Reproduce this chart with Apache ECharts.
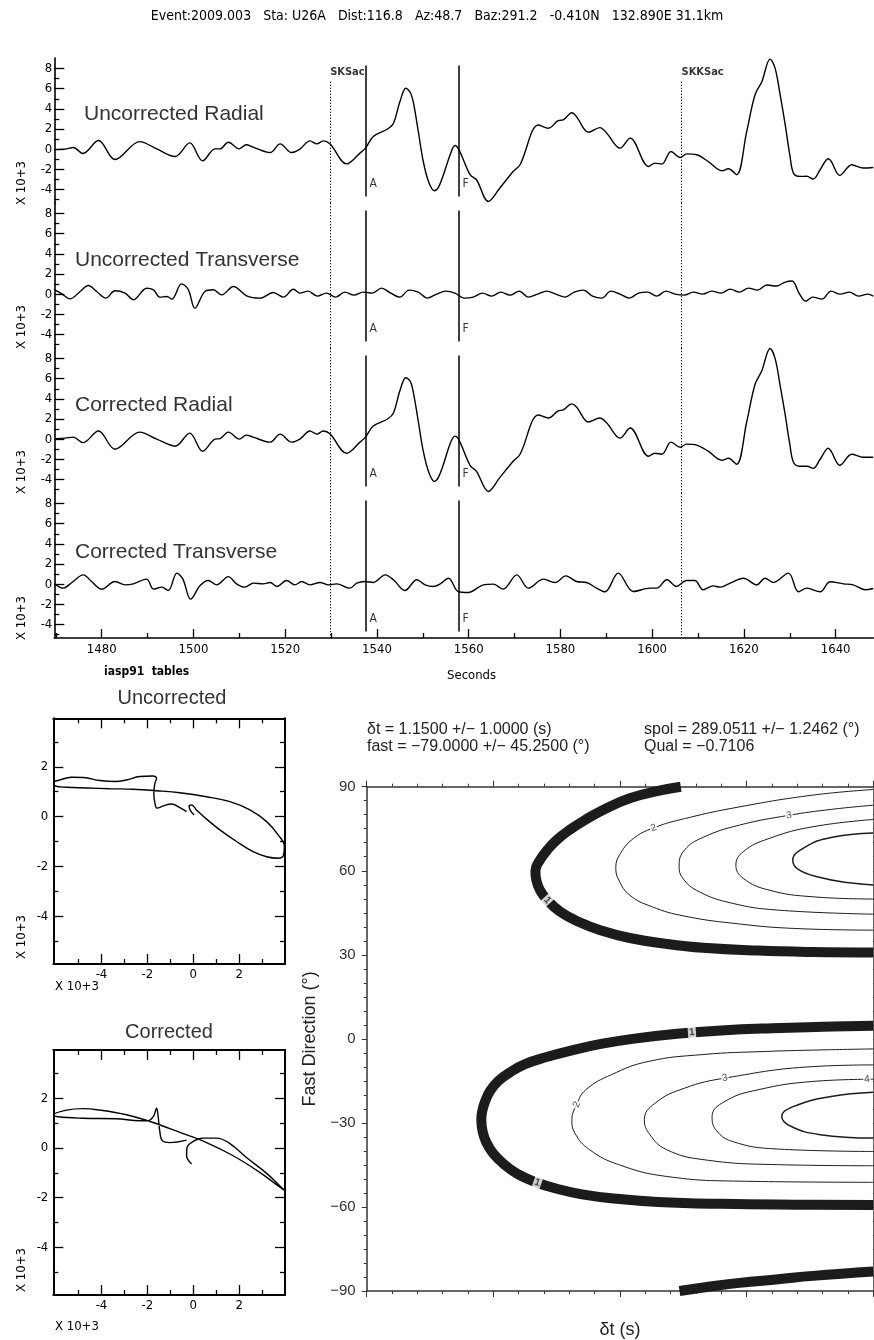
<!DOCTYPE html>
<html>
<head>
<meta charset="utf-8">
<script src="https://cdn.jsdelivr.net/npm/echarts@6.0.0/dist/echarts.min.js"></script>
<style>
  html, body { margin: 0; padding: 0; background: #fff; }
  #chart { width: 874px; height: 1340px; }
</style>
</head>
<body>
<div id="chart"></div>
<script>
// ---------------- data ----------------
const headerText = 'Event:2009.003   Sta: U26A   Dist:116.8   Az:48.7   Baz:291.2   -0.410N   132.890E 31.1km';
const panelNames = ['Uncorrected Radial', 'Uncorrected Transverse', 'Corrected Radial', 'Corrected Transverse'];

// seismogram traces: [time (s), amplitude (x 10^3)]
const radialUncorrected = [
  [1469.8,-0.05],[1472.0,0.0],[1473.8,0.16],[1475.9,-0.43],[1479.3,0.85],[1482.9,-1.03],[1488.3,0.75],
  [1492.0,0.03],[1496.0,-0.73],[1499.2,0.62],[1502.0,-1.16],[1504.7,0.03],[1505.8,0.03],[1507.6,0.69],
  [1510.0,0.03],[1511.5,0.43],[1513.0,0.2],[1516.7,-0.34],[1518.9,0.52],[1521.4,-0.34],[1523.2,0.0],
  [1525.4,0.82],[1526.9,0.52],[1528.3,0.82],[1529.8,0.5],[1533.4,-1.46],[1536.3,-0.4],[1537.5,0.1],
  [1539.2,1.25],[1542.3,2.0],[1543.6,2.57],[1545.0,4.7],[1546.3,6.04],[1547.3,5.6],[1548.0,4.5],
  [1549.0,1.8],[1550.1,-1.23],[1551.3,-3.3],[1552.5,-4.13],[1553.4,-3.8],[1554.5,-2.54],[1556.0,-0.5],
  [1557.0,0.36],[1557.9,-0.07],[1560.3,-2.54],[1561.7,-3.04],[1564.3,-5.2],[1566.8,-3.86],[1569.7,-2.22],
  [1571.2,-1.55],[1575.2,2.4],[1577.4,2.08],[1579.5,2.83],[1580.6,2.9],[1582.5,3.62],[1583.5,3.23],
  [1586.1,1.68],[1588.6,2.14],[1590.1,1.58],[1593.0,0.1],[1595.2,1.09],[1599.2,-1.72],[1600.6,-1.39],
  [1602.1,-1.49],[1604.1,-0.24],[1606.1,-0.83],[1607.5,-0.47],[1609.7,-0.56],[1612.2,-1.23],[1615.2,-2.15],
  [1616.6,-1.95],[1618.4,-2.54],[1620.6,1.74],[1622.4,5.38],[1623.9,6.7],[1625.7,8.94],[1626.8,8.02],
  [1627.9,5.38],[1629.0,2.4],[1630.0,-0.56],[1630.8,-2.38],[1632.2,-2.71],[1633.7,-2.7],[1635.1,-2.97],
  [1636.6,-2.05],[1638.4,-0.96],[1639.0,-1.2],[1640.9,-2.61],[1643.5,-1.55],[1646.0,-1.88],[1648.2,-1.82]
];
const transverseUncorrected = [
  [1469.8,0.43],[1471.3,0.03],[1473.1,-0.47],[1475.3,0.26],[1477.1,0.85],[1478.9,0.26],[1480.9,-0.4],
  [1482.9,0.33],[1485.1,0.1],[1486.9,-0.56],[1489.8,0.59],[1491.3,0.43],[1492.7,-0.3],[1494.2,-0.23],
  [1495.3,-0.5],[1497.4,1.02],[1498.9,0.43],[1500.3,-1.39],[1502.5,0.26],[1504.3,0.43],[1506.2,-0.07],
  [1508.7,0.76],[1511.6,-0.17],[1514.5,-0.4],[1517.4,0.16],[1519.6,-0.3],[1521.8,0.49],[1523.2,0.1],
  [1525.0,0.3],[1527.0,-0.2],[1529.0,0.1],[1531.0,-0.3],[1533.0,0.2],[1535.0,-0.1],[1537.0,0.2],
  [1539.0,0.1],[1541.0,0.6],[1543.0,0.1],[1545.0,-0.3],[1547.0,0.4],[1549.0,0.2],[1551.0,-0.4],
  [1553.0,0.0],[1555.0,0.3],[1557.0,0.1],[1559.0,-0.4],[1561.0,-0.3],[1563.0,0.1],[1565.0,-0.2],
  [1567.0,0.2],[1569.0,-0.1],[1571.0,0.3],[1573.0,-0.3],[1575.0,0.0],[1577.0,0.3],[1579.0,0.0],
  [1581.0,-0.3],[1583.0,0.2],[1585.0,0.4],[1587.0,-0.2],[1589.0,-0.4],[1591.0,0.3],[1593.0,0.0],
  [1595.0,-0.4],[1597.0,0.1],[1599.0,0.2],[1601.0,-0.2],[1603.0,0.3],[1605.0,0.0],[1607.0,-0.1],
  [1609.0,0.2],[1611.0,0.0],[1613.0,0.3],[1615.0,0.1],[1617.0,0.5],[1619.0,0.2],[1621.0,0.6],
  [1623.0,0.4],[1625.0,0.9],[1627.0,0.8],[1629.0,1.2],[1630.5,1.3],[1632.0,0.1],[1633.5,-0.7],
  [1635.0,-0.3],[1637.0,-0.5],[1639.0,0.3],[1641.0,0.0],[1643.0,0.2],[1645.0,-0.2],[1647.0,0.0],[1648.2,-0.2]
];
const radialCorrected = [
  [1469.8,0.05],[1472.0,0.1],[1473.8,0.2],[1475.9,-0.35],[1479.3,0.8],[1482.9,-1.0],[1488.3,0.7],
  [1492.0,0.0],[1496.0,-0.7],[1499.2,0.6],[1502.0,-1.2],[1504.7,0.0],[1505.8,0.05],[1507.6,0.7],
  [1510.0,0.0],[1511.5,0.4],[1513.0,0.2],[1516.7,-0.3],[1518.9,0.5],[1521.4,-0.3],[1523.2,0.0],
  [1525.4,0.8],[1526.9,0.5],[1528.3,0.8],[1529.8,0.5],[1533.4,-1.4],[1536.3,-0.3],[1537.5,0.2],
  [1539.2,1.3],[1542.3,2.0],[1543.6,2.6],[1545.0,4.8],[1546.3,6.1],[1547.3,5.7],[1548.0,4.5],
  [1549.0,1.8],[1550.1,-1.2],[1551.3,-3.3],[1552.5,-4.2],[1553.4,-3.8],[1554.5,-2.5],[1556.0,-0.4],
  [1557.0,0.3],[1557.9,-0.1],[1560.3,-2.6],[1561.7,-3.2],[1564.3,-5.2],[1566.8,-3.8],[1569.7,-2.2],
  [1571.2,-1.5],[1575.2,2.4],[1577.4,2.1],[1579.5,2.8],[1580.6,2.9],[1582.5,3.5],[1583.5,3.2],
  [1586.1,1.7],[1588.6,2.1],[1590.1,1.6],[1593.0,0.1],[1595.2,1.1],[1599.2,-1.7],[1600.6,-1.4],
  [1602.1,-1.5],[1604.1,-0.3],[1606.1,-0.8],[1607.5,-0.5],[1609.7,-0.6],[1612.2,-1.2],[1615.2,-2.1],
  [1616.6,-1.9],[1618.4,-2.5],[1620.6,1.7],[1622.4,5.4],[1623.9,6.8],[1625.7,9.0],[1626.8,8.0],
  [1627.9,5.3],[1629.0,2.4],[1630.0,-0.5],[1630.8,-2.3],[1632.2,-2.7],[1633.7,-2.7],[1635.1,-2.9],
  [1636.6,-2.0],[1638.4,-0.9],[1639.0,-1.2],[1640.9,-2.6],[1643.5,-1.5],[1646.0,-1.8],[1648.2,-1.8]
];
const transverseCorrected = [
  [1469.8,0.0],[1471.6,-0.4],[1473.5,0.16],[1476.0,0.92],[1477.8,0.26],[1480.0,-0.5],[1482.9,0.26],
  [1485.1,-0.07],[1486.9,0.03],[1489.8,0.5],[1491.3,-0.5],[1493.1,-0.3],[1494.5,-0.63],[1496.4,1.09],
  [1497.7,0.5],[1499.4,-1.49],[1501.4,-0.17],[1503.2,0.36],[1505.1,-0.07],[1507.6,0.75],[1509.4,0.03],
  [1511.2,-0.3],[1513.1,0.1],[1515.2,0.03],[1516.7,0.16],[1518.2,-0.23],[1520.3,0.36],[1522.1,-0.07],
  [1523.6,0.26],[1525.4,-0.07],[1527.6,0.16],[1529.4,-0.07],[1531.2,0.03],[1534.1,-0.4],[1535.6,0.1],
  [1537.4,0.26],[1539.2,0.16],[1541.8,0.92],[1543.6,0.43],[1546.1,-0.63],[1548.7,0.43],[1550.5,-0.07],
  [1552.3,-0.23],[1553.7,0.0],[1555.6,0.59],[1557.7,-0.73],[1559.9,-0.83],[1563.2,-0.07],[1565.4,0.0],
  [1567.5,-0.5],[1570.5,0.92],[1573.0,-0.4],[1576.3,0.5],[1578.8,0.16],[1581.2,0.82],[1583.5,0.26],
  [1585.7,0.16],[1587.9,-0.4],[1589.7,-0.76],[1592.6,1.09],[1595.9,-0.73],[1599.5,-0.4],[1601.0,-0.4],
  [1603.2,0.43],[1605.3,-0.23],[1607.5,0.36],[1609.3,0.36],[1611.1,-0.56],[1613.3,-0.17],[1614.8,-0.3],
  [1617.0,0.1],[1619.9,0.59],[1622.8,-0.07],[1624.6,0.59],[1626.4,0.16],[1629.7,1.09],[1631.9,-0.76],
  [1633.7,-0.4],[1636.6,-0.76],[1638.8,0.23],[1641.7,0.03],[1643.8,-0.07],[1646.4,-0.56],[1648.2,-0.43]
];
const traces = [radialUncorrected, transverseUncorrected, radialCorrected, transverseCorrected];

// phase picks and analysis window
const pickNames = ['SKSac', 'SKKSac'];
const pickTimes = [1529.8, 1606.4];
const windowNames = ['A', 'F'];
const windowTimes = [1537.5, 1557.8];

// tick values
const timeMajorTicks = [1480, 1500, 1520, 1540, 1560, 1580, 1600, 1620, 1640];
const timeMinorTicks = [1470, 1490, 1510, 1530, 1550, 1570, 1590, 1610, 1630];
const ampMajorTicks = [-4, -2, 0, 2, 4, 6, 8];
const ampMinorTicks = [-5, -3, -1, 1, 3, 5, 7];
const pmMajorTicks = [-4, -2, 0, 2];
const pmMinorTicks = [-5, -3, -1, 1, 3];

// particle motion: [radial, transverse] (x 10^3)
const pmUncorrected = [
  [-0.29,0.20],[-0.58,0.36],[-0.95,0.51],[-1.31,0.43],[-1.57,0.34],[-1.67,0.54],[-1.72,0.94],[-1.67,1.34],
  [-1.60,1.54],[-1.75,1.63],[-2.33,1.61],[-2.91,1.47],[-3.42,1.41],[-4.07,1.45],[-4.80,1.57],[-5.31,1.58],
  [-5.82,1.47],[-6.08,1.37],[-6.02,1.23],[-5.53,1.18],[-4.65,1.15],[-3.64,1.12],[-2.62,1.10],[-1.60,1.04],
  [-0.58,0.96],[0.58,0.80],[1.60,0.60],[2.47,0.27],[3.20,-0.20],[3.70,-0.73],[3.97,-1.20],[3.94,-1.54],
  [3.70,-1.67],[3.20,-1.61],[2.61,-1.41],[1.89,-1.00],[1.16,-0.53],[0.58,-0.10],[0.14,0.27],[-0.07,0.47],
  [-0.18,0.43],[-0.12,0.24],[0.04,0.07]
];
const pmCorrected = [
  [-0.07,-0.64],[-0.29,-0.31],[-0.27,0.02],[0.00,0.27],[0.43,0.40],[1.02,0.40],[1.60,0.18],[2.32,-0.38],
  [3.20,-1.02],[3.92,-1.65],[3.98,-1.71],[3.78,-1.58],[2.90,-0.98],[1.74,-0.31],[0.58,0.22],[-0.58,0.63],
  [-1.75,1.03],[-2.91,1.34],[-4.07,1.53],[-4.80,1.59],[-5.53,1.53],[-6.08,1.34],[-5.89,1.26],[-4.80,1.20],
  [-3.35,1.18],[-2.33,1.10],[-1.97,1.10],[-1.72,1.30],[-1.60,1.61],[-1.54,1.37],[-1.46,0.69],[-1.34,0.29],
  [-1.02,0.22],[-0.29,0.32]
];

// misfit contours: [delay time (s), fast direction (deg)]
const contourUpper1 = [[2.48,90.0],[2.30,88.5],[2.077,85.9],[1.874,81.9],[1.73,78.3],[1.599,74.5],[1.498,70.9],[1.426,67.4],[1.368,63.8],[1.332,60.0],[1.339,56.7],[1.368,53.1],[1.426,49.5],[1.527,45.4],[1.672,41.8],[1.845,38.8],[2.077,36.0],[2.366,33.9],[2.655,32.5],[3.089,31.5],[3.523,31.0],[4.0,30.8]];
const contourUpper2 = [[4.0,89.0],[3.523,87.0],[2.944,82.8],[2.51,78.6],[2.265,75.3],[2.106,71.5],[2.004,66.2],[1.967,61.2],[1.99,56.7],[2.077,51.3],[2.25,47.2],[2.51,43.8],[2.944,41.0],[3.378,39.4],[4.0,38.8]];
const contourUpper3 = [[4.0,83.4],[3.667,81.9],[3.335,79.8],[2.944,76.3],[2.655,71.9],[2.51,67.4],[2.467,62.0],[2.496,57.3],[2.626,52.5],[2.886,48.4],[3.234,46.0],[4.0,44.5]];
const contourUpper4 = [[4.0,78.3],[3.523,75.7],[3.176,71.5],[2.973,66.8],[2.915,62.0],[2.973,57.3],[3.176,53.1],[3.523,50.7],[4.0,49.9]];
const contourUpper5 = [[4.0,73.5],[3.667,71.9],[3.465,68.5],[3.364,63.8],[3.407,60.5],[3.581,57.6],[3.812,55.7],[4.0,54.9]];
const contourWrap1 = [[2.47,-90.0],[2.7,-88.5],[2.944,-87.1],[3.25,-85.8],[3.523,-84.6],[4.0,-83.0]];
const contourLower1 = [[4.0,4.7],[3.6,4.3],[3.2,3.8],[2.8,3.0],[2.45,1.8],[2.1,0.0],[1.85,-1.8],[1.62,-4.1],[1.42,-6.5],[1.25,-9.0],[1.13,-12.0],[1.04,-15.0],[0.975,-18.5],[0.935,-22.3],[0.912,-25.8],[0.905,-28.9],[0.915,-33.0],[0.945,-37.0],[1.0,-41.0],[1.08,-44.6],[1.19,-48.2],[1.33,-51.1],[1.50,-53.5],[1.70,-55.5],[1.95,-57.0],[2.3,-58.2],[2.8,-58.9],[3.4,-59.2],[4.0,-59.3]];
const contourLower2 = [[4.0,-3.6],[3.64,-3.9],[3.15,-4.5],[2.655,-5.6],[2.221,-8.1],[1.932,-12.8],[1.73,-18.2],[1.657,-23.5],[1.62,-28.9],[1.643,-33.6],[1.758,-39.5],[1.99,-44.9],[2.366,-49.1],[2.944,-50.8],[4.0,-51.2]];
const contourLower3 = [[4.0,-9.3],[3.523,-9.9],[2.829,-14.0],[2.51,-17.6],[2.279,-22.9],[2.192,-28.9],[2.236,-34.2],[2.366,-39.5],[2.655,-43.1],[3.234,-44.9],[4.0,-45.3]];
const contourLower4 = [[4.0,-14.4],[3.523,-15.2],[3.089,-18.2],[2.829,-22.3],[2.727,-27.7],[2.756,-32.4],[2.886,-36.6],[3.234,-39.3],[4.0,-40.2]];
const contourLower5 = [[4.0,-19.1],[3.667,-20.6],[3.407,-23.5],[3.277,-27.7],[3.349,-31.2],[3.581,-34.2],[4.0,-35.4]];
const contourLines = [contourUpper1, contourWrap1, contourLower1, contourUpper2, contourLower2, contourUpper3, contourLower3, contourUpper4, contourLower4, contourUpper5, contourLower5];
const contourLevels = [1, 1, 1, 2, 2, 3, 3, 4, 4, 5, 5];

// contour level labels: [delay, direction, level]
const contourLabels = [[1.426,49.5,'1'],[2.568,2.3,'1'],[1.348,-51.3,'1'],[2.265,75.3,'2'],[3.335,79.8,'3'],[1.657,-23.5,'2'],[2.829,-14.0,'3'],[3.95,-14.4,'4']];
const contourLabelAngles = [-48, 4, -20, 21, 10, 65, 12, 5];

const resultLeft = ['\u03b4t = 1.1500 +/\u2212 1.0000 (s)', 'fast = \u221279.0000 +/\u2212 45.2500 (\u00b0)'];
const resultRight = ['spol = 289.0511 +/\u2212 1.2462 (\u00b0)', 'Qual = \u22120.7106'];

// ---------------- layout ----------------
const SAC_FONT = '"Liberation Sans Narrow", "DejaVu Sans Condensed", sans-serif';
const HELV_FONT = '"Liberation Sans", Arial, Helvetica, sans-serif';
const T_MIN = 1469.67, T_MAX = 1648.2;
const AMP_MIN = -5.35, AMP_MAX = 9.05;
const PANEL_TOP = 58, PANEL_H = 145, PANEL_LEFT = 54.3, PANEL_W = 819;
const PM_X = [-6.1, 4.0], PM_Y = [-5.92, 3.95];

const grids = [];
const xAxes = [];
const yAxes = [];
const series = [];

function tickAxis(grid, min, max, position, ticks, len, lineWidth, labels, labelStyle) {
  return {
    type: 'value', gridIndex: grid, min: min, max: max, position: position,
    splitLine: { show: false },
    axisLine: { show: lineWidth > 0, onZero: false, lineStyle: { color: '#000', width: lineWidth || 1 } },
    axisTick: { show: true, inside: true, length: len, customValues: ticks, lineStyle: { color: '#000', width: 1.3 } },
    axisLabel: labels ? Object.assign({ show: true, customValues: labels, color: '#000', fontFamily: SAC_FONT, fontSize: 13,
      formatter: v => String(v) }, labelStyle) : { show: false }
  };
}
function addX(a) { xAxes.push(a); return xAxes.length - 1; }
function addY(a) { yAxes.push(a); return yAxes.length - 1; }

// seismogram panels
for (let i = 0; i < 4; i++) {
  grids.push({ left: PANEL_LEFT, width: PANEL_W, top: PANEL_TOP + PANEL_H * i, height: PANEL_H });
  let xi;
  if (i < 3) {
    xi = addX({ type: 'value', gridIndex: i, min: T_MIN, max: T_MAX, show: false });
  } else {
    xi = addX(tickAxis(i, T_MIN, T_MAX, 'bottom', timeMajorTicks, 9, 1.6, timeMajorTicks, { margin: 5 }));
    addX(tickAxis(i, T_MIN, T_MAX, 'bottom', timeMinorTicks, 5, 0));
  }
  const yi = addY(tickAxis(i, AMP_MIN, AMP_MAX, 'left', ampMajorTicks, 10, 1.6, ampMajorTicks, { margin: 2 }));
  addY(tickAxis(i, AMP_MIN, AMP_MAX, 'left', ampMinorTicks, 5, 0));

  const marks = [];
  windowTimes.forEach(t => marks.push([
    { coord: [t, 8.3], lineStyle: { color: '#000', width: 1.5, type: 'solid' } },
    { coord: [t, -4.7] }
  ]));
  pickTimes.forEach(t => marks.push([
    { coord: [t, i === 0 ? 6.7 : AMP_MAX], lineStyle: { color: '#000', width: 1, type: [1.3, 1.7] } },
    { coord: [t, AMP_MIN] }
  ]));

  series.push({
    type: 'line', xAxisIndex: xi, yAxisIndex: yi, data: traces[i],
    smooth: 0.35, symbol: 'none', lineStyle: { color: '#000', width: 1.4 },
    markLine: { silent: true, symbol: ['none', 'none'], label: { show: false }, data: marks }
  });

  const tags = windowTimes.map((t, k) => [t, -3.5, windowNames[k]]);
  series.push({
    type: 'scatter', xAxisIndex: xi, yAxisIndex: yi, symbolSize: 0, silent: true,
    data: tags,
    label: { show: true, position: 'right', distance: 4, formatter: p => p.data[2], color: '#000', fontFamily: SAC_FONT, fontSize: 12 }
  });
  if (i === 0) {
    series.push({
      type: 'scatter', xAxisIndex: xi, yAxisIndex: yi, symbolSize: 0, silent: true,
      data: pickTimes.map((t, k) => [t, 7.6, pickNames[k]]),
      label: { show: true, position: 'right', distance: 0, formatter: p => p.data[2], color: '#000', fontFamily: SAC_FONT, fontSize: 11, fontWeight: 'bold' }
    });
  }
}

// particle motion boxes
function particleBox(top, height, data) {
  const g = grids.length;
  grids.push({ left: 53.3, width: 231.7, top: top, height: height });
  const xi = addX(tickAxis(g, PM_X[0], PM_X[1], 'bottom', pmMajorTicks, 10, 2, pmMajorTicks, { margin: 4 }));
  addX(tickAxis(g, PM_X[0], PM_X[1], 'bottom', pmMinorTicks, 5, 0));
  addX(tickAxis(g, PM_X[0], PM_X[1], 'top', pmMajorTicks, 10, 2));
  addX(tickAxis(g, PM_X[0], PM_X[1], 'top', pmMinorTicks, 5, 0));
  const yi = addY(tickAxis(g, PM_Y[0], PM_Y[1], 'left', pmMajorTicks, 10, 2, pmMajorTicks, { margin: 5 }));
  addY(tickAxis(g, PM_Y[0], PM_Y[1], 'left', pmMinorTicks, 5, 0));
  addY(tickAxis(g, PM_Y[0], PM_Y[1], 'right', pmMajorTicks, 10, 2));
  addY(tickAxis(g, PM_Y[0], PM_Y[1], 'right', pmMinorTicks, 5, 0));
  series.push({
    type: 'line', xAxisIndex: xi, yAxisIndex: yi, data: data,
    smooth: 0.4, symbol: 'none', lineStyle: { color: '#000', width: 1.4 }
  });
}
particleBox(718.3, 245.7, pmUncorrected);
particleBox(1050, 245, pmCorrected);

// misfit surface
const cg = grids.length;
grids.push({ left: 366.7, width: 506.6, top: 786.7, height: 505 });
function misfitAxis(position, withName) {
  return {
    type: 'value', gridIndex: cg, min: 0, max: 4, interval: 1, position: position,
    splitLine: { show: false },
    axisLine: { show: true, onZero: false, lineStyle: { color: '#333', width: 1.5 } },
    axisTick: { show: true, inside: false, length: 6, lineStyle: { color: '#333', width: 1 } },
    minorTick: { show: true, splitNumber: 5, length: 3, lineStyle: { color: '#333', width: 1 } },
    axisLabel: { show: false },
    name: withName ? '\u03b4t (s)' : '', nameLocation: 'middle', nameGap: 30,
    nameTextStyle: { fontFamily: HELV_FONT, fontSize: 18, color: '#222' }
  };
}
const cx = addX(misfitAxis('bottom', true));
addX(misfitAxis('top', false));
function directionAxis(position, withLabels) {
  return {
    type: 'value', gridIndex: cg, min: -90, max: 90, interval: 30, position: position,
    splitLine: { show: false },
    axisLine: { show: true, onZero: false, lineStyle: { color: '#333', width: 1.5 } },
    axisTick: { show: true, inside: false, length: 5, lineStyle: { color: '#333', width: 1 } },
    minorTick: { show: true, splitNumber: 6, length: 3, lineStyle: { color: '#333', width: 1 } },
    axisLabel: withLabels ? { show: true, margin: 11, fontFamily: HELV_FONT, fontSize: 15, color: '#333',
      formatter: v => String(v).replace('-', '\u2212') } : { show: false },
    name: withLabels ? 'Fast Direction (\u00b0)' : '', nameLocation: 'middle', nameRotate: 90, nameGap: 37,
    nameTextStyle: { fontFamily: HELV_FONT, fontSize: 18, color: '#222' }
  };
}
const cy = addY(directionAxis('left', true));
addY(directionAxis('right', false));

contourLines.forEach((line, k) => {
  const lvl = contourLevels[k];
  series.push({
    type: 'line', xAxisIndex: cx, yAxisIndex: cy, data: line, clip: true,
    smooth: 0.45, symbol: 'none', silent: true,
    lineStyle: { color: '#1c1c1c', width: lvl === 1 ? 10 : (lvl === 5 ? 1.5 : 1) }
  });
});
series.push({
  type: 'scatter', xAxisIndex: cx, yAxisIndex: cy, silent: true, z: 5,
  data: contourLabels.map((d, k) => {
    const thick = d[2] === '1';
    return {
      value: d,
      symbol: 'rect',
      symbolSize: thick ? [8, 13] : 0,
      symbolRotate: contourLabelAngles[k],
      itemStyle: { color: '#fff' },
      label: {
        show: true, position: 'inside', rotate: contourLabelAngles[k], formatter: d[2],
        fontFamily: HELV_FONT, fontSize: thick ? 10 : 10, fontWeight: thick ? 'bold' : 'normal',
        color: '#222', backgroundColor: thick ? 'transparent' : '#fff', padding: thick ? 0 : [0, 1]
      }
    };
  })
});

// ---------------- free text ----------------
function txt(x, y, text, font, opts) {
  return {
    type: 'text', x: x, y: y, silent: true,
    style: Object.assign({ text: text, font: font, fill: '#000', textAlign: 'left', textVerticalAlign: 'middle', align: 'left', verticalAlign: 'middle' }, opts || {})
  };
}
function vtxt(x, y, text) {
  const t = txt(x, y, text, '13px ' + SAC_FONT, { textAlign: 'center', align: 'center' });
  t.rotation = Math.PI / 2;
  return t;
}
const graphics = [
  txt(437, 16, headerText, '14px ' + SAC_FONT, { textAlign: 'center', align: 'center' }),
  txt(84, 114, panelNames[0], '21px ' + HELV_FONT, { fill: '#333' }),
  txt(75, 260, panelNames[1], '21px ' + HELV_FONT, { fill: '#333' }),
  txt(75, 405, panelNames[2], '21px ' + HELV_FONT, { fill: '#333' }),
  txt(75, 552, panelNames[3], '21px ' + HELV_FONT, { fill: '#333' }),
  vtxt(22, 183, 'X 10+3'), vtxt(22, 327, 'X 10+3'), vtxt(22, 472, 'X 10+3'), vtxt(22, 618, 'X 10+3'),
  txt(104, 672, 'iasp91  tables', 'bold 12px ' + SAC_FONT),
  txt(447, 676, 'Seconds', '13px ' + SAC_FONT),
  txt(172, 698, 'Uncorrected', '20px ' + HELV_FONT, { fill: '#333', textAlign: 'center', align: 'center' }),
  txt(169, 1032, 'Corrected', '20px ' + HELV_FONT, { fill: '#333', textAlign: 'center', align: 'center' }),
  vtxt(22, 937, 'X 10+3'), vtxt(22, 1270, 'X 10+3'),
  txt(55, 987, 'X 10+3', '13px ' + SAC_FONT),
  txt(55, 1327, 'X 10+3', '13px ' + SAC_FONT),
  txt(367, 729.5, resultLeft[0], '16px ' + HELV_FONT, { fill: '#222' }),
  txt(367, 746.5, resultLeft[1], '16px ' + HELV_FONT, { fill: '#222' }),
  txt(644, 729.5, resultRight[0], '16px ' + HELV_FONT, { fill: '#222' }),
  txt(644, 746.5, resultRight[1], '16px ' + HELV_FONT, { fill: '#222' })
];

const chart = echarts.init(document.getElementById('chart'), null, { renderer: 'canvas' });
chart.setOption({
  backgroundColor: '#fff',
  animation: false,
  grid: grids,
  xAxis: xAxes,
  yAxis: yAxes,
  series: series,
  graphic: graphics
});
</script>
</body>
</html>
